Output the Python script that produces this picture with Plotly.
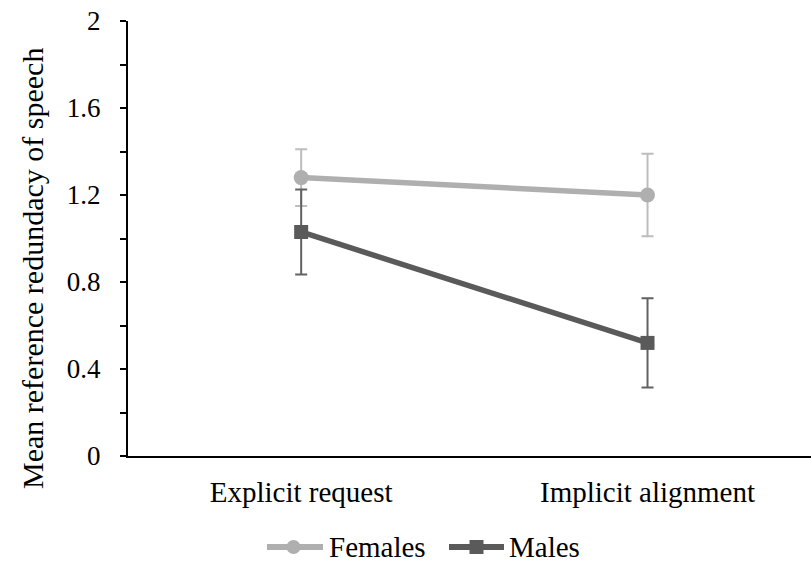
import plotly.graph_objects as go

categories = ["Explicit request", "Implicit alignment"]
cat_pos = [0, 1]
females = [1.28, 1.20]
females_err = [0.13, 0.19]
males = [1.03, 0.52]
males_err = [0.195, 0.205]
y_ticks = [0, 0.4, 0.8, 1.2, 1.6, 2]
y_ticktext = ["0", "0.4", "0.8", "1.2", "1.6", "2"]
series_names = ["Females", "Males"]

FONT = "Liberation Serif"
F_COL, F_ERR = "#AFAFAF", "#BDBDBD"
M_COL, M_ERR = "#5A5A5A", "#626262"

fig = go.Figure()
fig.add_trace(go.Scatter(
    x=cat_pos, y=females, name=series_names[0], mode="lines+markers",
    line=dict(color=F_COL, width=5.5),
    marker=dict(symbol="circle", size=15, color=F_COL),
    error_y=dict(type="data", array=females_err, visible=True,
                 color=F_ERR, thickness=2, width=6),
))
fig.add_trace(go.Scatter(
    x=cat_pos, y=males, name=series_names[1], mode="lines+markers",
    line=dict(color=M_COL, width=5.5),
    marker=dict(symbol="square", size=14, color=M_COL),
    error_y=dict(type="data", array=males_err, visible=True,
                 color=M_ERR, thickness=2, width=6),
))

# plot area geometry in pixels (for legend placement)
L, T, B, W, H = 128, 21, 107, 811, 563
PW, PH = W - L, H - T - B
def px(x):
    return (x - L) / PW
def py(y):
    return (H - B - y) / PH

# manual legend (long line symbols as in the reference)
leg_y = 547
shapes = [
    dict(type="line", xref="paper", yref="paper", x0=px(267), x1=px(323), y0=py(leg_y), y1=py(leg_y),
         line=dict(color=F_COL, width=6)),
    dict(type="circle", xref="paper", yref="paper", x0=px(286.5), x1=px(300.5),
         y0=py(leg_y + 7), y1=py(leg_y - 7), fillcolor=F_COL, line=dict(width=0)),
    dict(type="line", xref="paper", yref="paper", x0=px(449), x1=px(504), y0=py(leg_y), y1=py(leg_y),
         line=dict(color=M_COL, width=6)),
    dict(type="rect", xref="paper", yref="paper", x0=px(469.5), x1=px(483.5),
         y0=py(leg_y + 7), y1=py(leg_y - 7), fillcolor=M_COL, line=dict(width=0)),
]
annotations = [
    dict(text=series_names[0], xref="paper", yref="paper", x=px(327), y=py(leg_y),
         xanchor="left", yanchor="middle", showarrow=False,
         font=dict(family=FONT, size=29, color="black")),
    dict(text=series_names[1], xref="paper", yref="paper", x=px(507), y=py(leg_y),
         xanchor="left", yanchor="middle", showarrow=False,
         font=dict(family=FONT, size=29, color="black")),
    dict(text="Mean reference redundacy of speech", textangle=-90,
         xref="paper", yref="paper", x=px(32), y=py(269),
         xanchor="center", yanchor="middle", showarrow=False,
         font=dict(family=FONT, size=30, color="black")),
]

fig.update_layout(
    width=W, height=H,
    margin=dict(l=L, r=0, t=T, b=B),
    plot_bgcolor="white", paper_bgcolor="white",
    font=dict(family=FONT, size=27, color="black"),
    showlegend=False,
    shapes=shapes,
    annotations=annotations,
)
fig.update_xaxes(
    range=[-0.5, 1.472], tickvals=cat_pos, ticktext=categories,
    showline=True, linecolor="black", linewidth=2, ticks="",
    showgrid=False, zeroline=False, tickfont=dict(family=FONT, size=29),
    ticklabelstandoff=9,
)
fig.update_yaxes(
    range=[0, 2], tickvals=y_ticks, ticktext=y_ticktext,
    showline=True, linecolor="black", linewidth=2,
    ticks="outside", ticklen=6, tickwidth=2, tickcolor="black",
    tickfont=dict(family=FONT, size=27),
    minor=dict(dtick=0.2, ticks="outside", ticklen=6, tickwidth=2, tickcolor="black"),
    showgrid=False, zeroline=False, ticklabelstandoff=14,
)
fig.write_html("out.html")
